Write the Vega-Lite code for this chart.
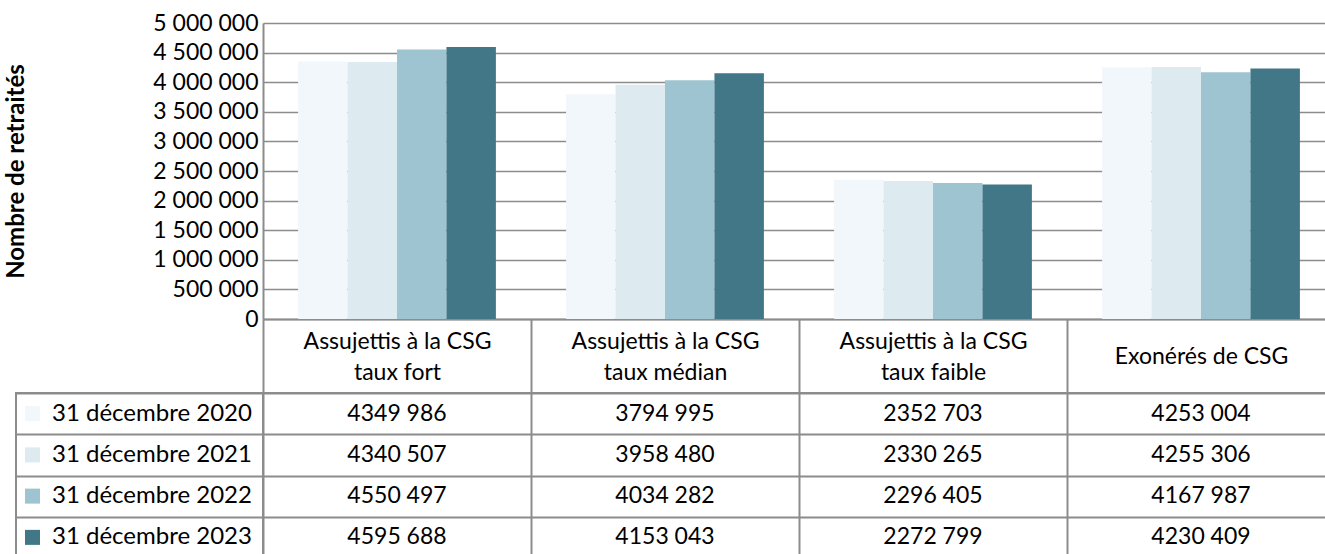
{
  "$schema": "https://vega.github.io/schema/vega-lite/v6.json",
  "padding": {"left": 4, "top": 12, "right": 0, "bottom": 0},
  "background": "white",
  "config": {
    "font": "Lato",
    "view": {"stroke": null},
    "locale": {"number": {"decimal": ",", "thousands": " ", "grouping": [3], "currency": ["", " €"]}},
    "axis": {"labelColor": "#000000", "labelFont": "Lato", "titleColor": "#000000"}
  },
  "data": {"values": [
    {"cat": "Assujettis à la CSG taux fort", "year": "31 décembre 2020", "value": 4349986},
    {"cat": "Assujettis à la CSG taux fort", "year": "31 décembre 2021", "value": 4340507},
    {"cat": "Assujettis à la CSG taux fort", "year": "31 décembre 2022", "value": 4550497},
    {"cat": "Assujettis à la CSG taux fort", "year": "31 décembre 2023", "value": 4595688},
    {"cat": "Assujettis à la CSG taux médian", "year": "31 décembre 2020", "value": 3794995},
    {"cat": "Assujettis à la CSG taux médian", "year": "31 décembre 2021", "value": 3958480},
    {"cat": "Assujettis à la CSG taux médian", "year": "31 décembre 2022", "value": 4034282},
    {"cat": "Assujettis à la CSG taux médian", "year": "31 décembre 2023", "value": 4153043},
    {"cat": "Assujettis à la CSG taux faible", "year": "31 décembre 2020", "value": 2352703},
    {"cat": "Assujettis à la CSG taux faible", "year": "31 décembre 2021", "value": 2330265},
    {"cat": "Assujettis à la CSG taux faible", "year": "31 décembre 2022", "value": 2296405},
    {"cat": "Assujettis à la CSG taux faible", "year": "31 décembre 2023", "value": 2272799},
    {"cat": "Exonérés de CSG", "year": "31 décembre 2020", "value": 4253004},
    {"cat": "Exonérés de CSG", "year": "31 décembre 2021", "value": 4255306},
    {"cat": "Exonérés de CSG", "year": "31 décembre 2022", "value": 4167987},
    {"cat": "Exonérés de CSG", "year": "31 décembre 2023", "value": 4230409}
  ]},
  "columns": 2,
  "align": "each",
  "bounds": "flush",
  "spacing": {"row": 74, "column": 0},
  "concat": [
    {
      "width": 247,
      "height": 296,
      "transform": [{"filter": "false"}],
      "mark": {"type": "text"},
      "encoding": {}
    },
    {
      "width": 1072,
      "height": 296,
      "mark": {"type": "bar"},
      "encoding": {
        "x": {
          "field": "cat", "type": "nominal", "sort": null,
          "scale": {"paddingInner": 0, "paddingOuter": 0},
          "axis": {
            "title": null, "labelAngle": 0, "tickBand": "extent", "tickSize": 74, "tickWidth": 2,
            "tickColor": "#8c8c8c", "domainColor": "#8c8c8c", "domainWidth": 2,
            "labelPadding": {"condition": {"test": "datum.value == 'Exonérés de CSG'", "value": -37}, "value": -52},
            "labelBaseline": "middle", "labelFontSize": 23, "labelLimit": 0,
            "labelLineHeight": 31,
            "labelExpr": "datum.label == 'Exonérés de CSG' ? datum.label : [slice(datum.label, 0, 19), slice(datum.label, 20)]"
          }
        },
        "xOffset": {"field": "year", "type": "nominal", "scale": {"paddingOuter": 0.71, "paddingInner": 0}},
        "y": {
          "field": "value", "type": "quantitative",
          "scale": {"domain": [0, 5000000], "nice": false},
          "axis": {
            "values": [0, 500000, 1000000, 1500000, 2000000, 2500000, 3000000, 3500000, 4000000, 4500000, 5000000],
            "format": ",.0f", "ticks": false, "labelPadding": 5, "labelFontSize": 23,
            "domainColor": "#8c8c8c", "domainWidth": 2,
            "gridColor": "#8c8c8c", "gridWidth": 1.5,
            "title": "Nombre de retraités", "titleFontSize": 24, "titleFontWeight": "bold",
            "titleX": -247, "titleY": 148, "titleAngle": 270, "titleAlign": "center", "titleBaseline": "middle"
          }
        },
        "color": {
          "field": "year", "type": "nominal",
          "scale": {"range": ["#F2F7FB", "#DDEBF0", "#9EC4D2", "#417787"]},
          "legend": null
        }
      }
    },
    {
      "width": 247,
      "height": 165,
      "view": {"stroke": "#8c8c8c", "strokeWidth": 2},
      "transform": [{"aggregate": [], "groupby": ["year"]}],
      "encoding": {
        "y": {
          "field": "year", "type": "nominal",
          "scale": {"paddingInner": 0, "paddingOuter": 0},
          "axis": {"title": null, "labels": false, "ticks": false, "domain": false, "grid": true, "tickBand": "extent", "gridColor": "#8c8c8c", "gridWidth": 2}
        }
      },
      "layer": [
        {
          "mark": {"type": "square", "size": 225, "opacity": 1, "filled": true},
          "encoding": {
            "x": {"value": 16.5},
            "color": {"field": "year", "type": "nominal", "legend": null}
          }
        },
        {
          "mark": {"type": "text", "align": "left", "fontSize": 24, "color": "#000000"},
          "encoding": {
            "x": {"value": 36},
            "text": {"field": "year"}
          }
        }
      ]
    },
    {
      "width": 1072,
      "height": 165,
      "view": {"stroke": "#8c8c8c", "strokeWidth": 2},
      "transform": [{"calculate": "floor(datum.value / 1000) + ' ' + slice('00' + (datum.value % 1000), -3)", "as": "label"}],
      "mark": {"type": "text", "fontSize": 23, "color": "#000000"},
      "encoding": {
        "x": {
          "field": "cat", "type": "nominal", "sort": null,
          "scale": {"paddingInner": 0, "paddingOuter": 0},
          "axis": {"title": null, "labels": false, "ticks": false, "domain": false, "grid": true, "tickBand": "extent", "gridColor": "#8c8c8c", "gridWidth": 2}
        },
        "y": {
          "field": "year", "type": "nominal",
          "scale": {"paddingInner": 0, "paddingOuter": 0},
          "axis": {"title": null, "labels": false, "ticks": false, "domain": false, "grid": true, "tickBand": "extent", "gridColor": "#8c8c8c", "gridWidth": 2}
        },
        "text": {"field": "label"}
      }
    }
  ]
}
